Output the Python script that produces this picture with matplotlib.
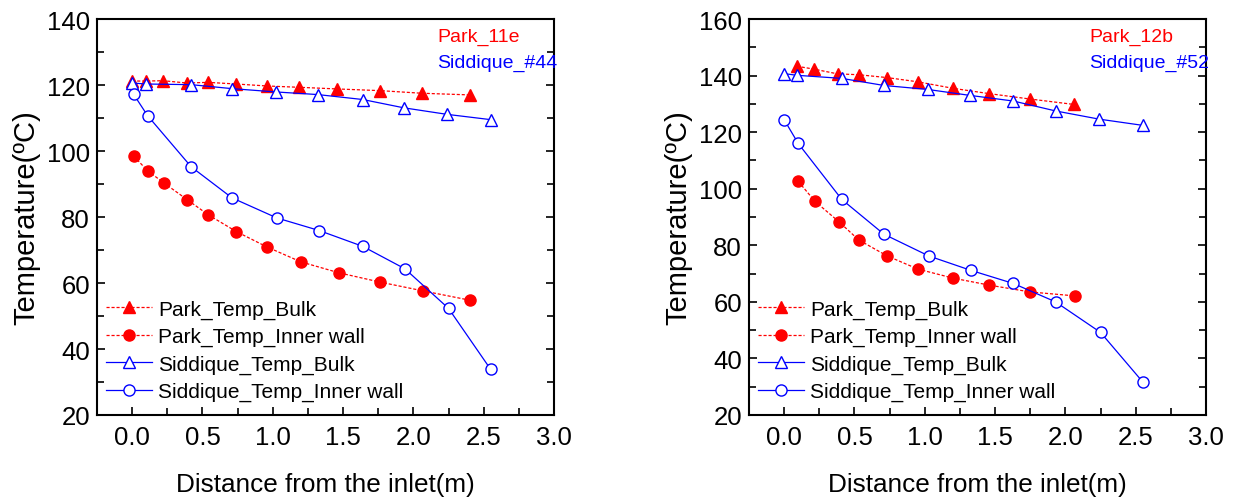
import matplotlib
matplotlib.use("Agg")
import matplotlib.pyplot as plt
from matplotlib.ticker import MultipleLocator

plt.rcParams['font.family'] = ['Liberation Sans', 'DejaVu Sans']

# ---- Left panel (Park_11e / Siddique_#44) ----
L_park_x = [0.0, 0.10, 0.22, 0.39, 0.54, 0.74, 0.96, 1.19, 1.46, 1.76, 2.06, 2.40]
L_park_bulk = [121.2, 121.2, 121.3, 120.6, 120.8, 120.3, 119.7, 119.3, 118.8, 118.3, 117.5, 117.0]
L_park_wall_x = [0.01, 0.11, 0.23, 0.39, 0.54, 0.74, 0.96, 1.20, 1.47, 1.76, 2.07, 2.40]
L_park_wall = [98.5, 94.0, 90.2, 85.3, 80.7, 75.6, 70.9, 66.4, 63.1, 60.3, 57.6, 54.8]
L_sid_x = [0.0, 0.10, 0.42, 0.71, 1.02, 1.32, 1.64, 1.93, 2.24, 2.55]
L_sid_bulk = [120.6, 120.3, 120.1, 118.9, 117.9, 117.1, 115.6, 113.1, 111.1, 109.5]
L_sid_wall_x = [0.01, 0.11, 0.42, 0.71, 1.03, 1.33, 1.64, 1.94, 2.25, 2.55]
L_sid_wall = [117.2, 110.7, 95.2, 85.8, 79.7, 75.9, 71.1, 64.3, 52.3, 33.8]

# ---- Right panel (Park_12b / Siddique_#52) ----
R_park_x = [0.09, 0.21, 0.38, 0.53, 0.73, 0.95, 1.20, 1.46, 1.75, 2.06]
R_park_bulk = [143.3, 142.3, 140.6, 140.3, 139.3, 137.8, 135.5, 133.6, 131.7, 129.8]
R_park_wall_x = [0.10, 0.22, 0.39, 0.53, 0.73, 0.95, 1.20, 1.46, 1.75, 2.07]
R_park_wall = [102.6, 95.5, 88.3, 81.9, 76.3, 71.6, 68.4, 65.9, 63.5, 62.1]
R_sid_x = [0.0, 0.09, 0.41, 0.71, 1.02, 1.32, 1.63, 1.93, 2.24, 2.55]
R_sid_bulk = [140.7, 140.1, 139.0, 136.5, 135.1, 133.0, 131.0, 127.5, 124.6, 122.4]
R_sid_wall_x = [0.0, 0.10, 0.41, 0.71, 1.03, 1.33, 1.63, 1.93, 2.25, 2.55]
R_sid_wall = [124.4, 116.0, 96.2, 83.9, 76.2, 71.1, 66.5, 60.0, 49.2, 31.7]

x_label = "Distance from the inlet(m)"
y_label = "Temperature(ºC)"
legend_labels = ["Park_Temp_Bulk", "Park_Temp_Inner wall",
                 "Siddique_Temp_Bulk", "Siddique_Temp_Inner wall"]

fig = plt.figure(figsize=(12.34, 5.02), dpi=100)
axL = fig.add_axes([97/1234, 86/502, 457/1234, 396/502])
axR = fig.add_axes([749/1234, 86/502, 457/1234, 396/502])

RED = '#ff0000'
BLUE = '#0000ff'


def draw(ax, px, pb, pwx, pw, sx, sb, swx, sw, ylim, yticks, tag1, tag2):
    ax.plot(px, pb, color=RED, lw=0.9, ls=(0, (2.5, 1.5)), marker='^',
            ms=8.5, mfc=RED, mec=RED, label=legend_labels[0])
    ax.plot(pwx, pw, color=RED, lw=0.9, ls=(0, (2.5, 1.5)), marker='o',
            ms=8, mfc=RED, mec=RED, label=legend_labels[1])
    ax.plot(sx, sb, color=BLUE, lw=0.9, ls='-', marker='^',
            ms=8.5, mfc='white', mec=BLUE, mew=1.0, label=legend_labels[2])
    ax.plot(swx, sw, color=BLUE, lw=0.9, ls='-', marker='o',
            ms=8, mfc='white', mec=BLUE, mew=1.0, label=legend_labels[3])
    ax.set_xlim(-0.25, 3.0)
    ax.set_ylim(*ylim)
    ax.xaxis.set_major_locator(MultipleLocator(0.5))
    ax.xaxis.set_minor_locator(MultipleLocator(0.25))
    ax.set_yticks(yticks)
    ax.yaxis.set_minor_locator(MultipleLocator(10))
    ax.set_xticklabels([f"{v:.1f}" for v in ax.get_xticks()])
    ax.tick_params(axis='both', which='both', direction='in', labelsize=18.5,
                   right=True, top=False, width=1.2)
    ax.tick_params(axis='both', which='major', length=6)
    ax.tick_params(axis='both', which='minor', length=5)
    ax.tick_params(axis='x', pad=7)
    ax.tick_params(axis='y', pad=5)
    for s in ax.spines.values():
        s.set_linewidth(1.5)
    ax.set_xlabel(x_label, fontsize=18.8, labelpad=17)
    ax.set_ylabel(y_label, fontsize=21, labelpad=5)
    ax.text(0.745, 0.955, tag1, color=RED, fontsize=14, transform=ax.transAxes,
            ha='left', va='center')
    ax.text(0.745, 0.89, tag2, color=BLUE, fontsize=14, transform=ax.transAxes,
            ha='left', va='center')
    ax.legend(loc='lower left', bbox_to_anchor=(-0.01, 0.0), frameon=False,
              fontsize=15, handlelength=2.2, handletextpad=0.3,
              labelspacing=0.4, borderaxespad=0.25)


draw(axL, L_park_x, L_park_bulk, L_park_wall_x, L_park_wall,
     L_sid_x, L_sid_bulk, L_sid_wall_x, L_sid_wall,
     (20, 140), list(range(20, 141, 20)), "Park_11e", "Siddique_#44")
draw(axR, R_park_x, R_park_bulk, R_park_wall_x, R_park_wall,
     R_sid_x, R_sid_bulk, R_sid_wall_x, R_sid_wall,
     (20, 160), list(range(20, 161, 20)), "Park_12b", "Siddique_#52")

fig.savefig("out.png", dpi=100)
